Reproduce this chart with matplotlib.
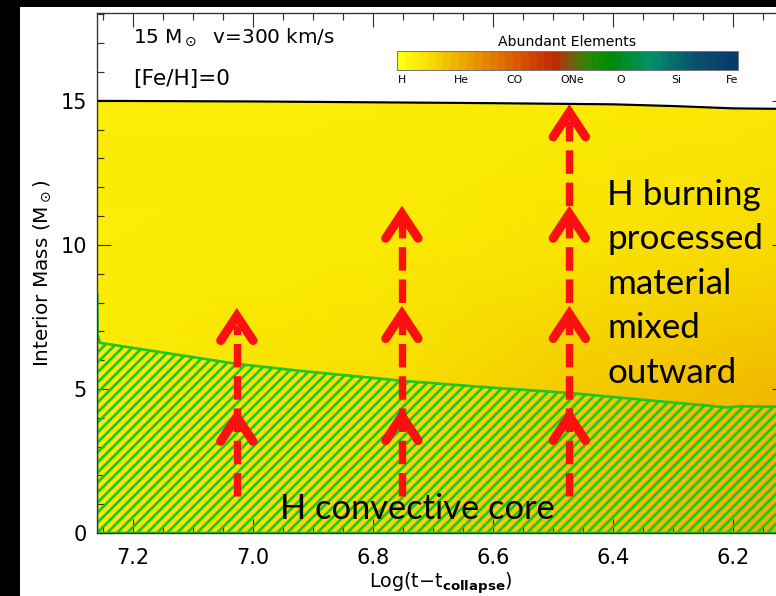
import numpy as np
import matplotlib
matplotlib.use("Agg")
from matplotlib import pyplot as plt
from matplotlib.colors import LinearSegmentedColormap, Normalize
from matplotlib.cm import ScalarMappable
from matplotlib.patches import Polygon, Rectangle
from matplotlib.ticker import MultipleLocator

DPI = 120
W, H = 776, 596

plt.rcParams['font.family'] = ['DejaVu Sans']
plt.rcParams['mathtext.fontset'] = 'dejavusans'
plt.rcParams['hatch.color'] = '#22c41e'
plt.rcParams['hatch.linewidth'] = 1.6

# stellar surface (total mass) vs log time to collapse
surf_t = [7.26, 7.0, 6.8, 6.6, 6.4, 6.3, 6.2, 6.11]
surf_m = [15.0, 14.98, 14.95, 14.92, 14.88, 14.82, 14.74, 14.72]

# outer edge of the H convective core
core_t = [7.26, 7.2595, 7.255, 7.155, 7.027, 6.922, 6.75, 6.605, 6.472, 6.338, 6.21, 6.19, 6.11]
core_m = [8.3, 6.9, 6.6, 6.28, 5.87, 5.63, 5.28, 5.05, 4.86, 4.6, 4.36, 4.4, 4.38]

# coarse grid of the abundance index (0 = H ... 1 = Fe) inside the star
grid_t = [7.26, 6.8, 6.4, 6.11]
grid_m = [0, 5, 10, 15.2]
grid_idx = [[0.06, 0.1, 0.14, 0.175],
            [0.055, 0.085, 0.125, 0.155],
            [0.05, 0.058, 0.075, 0.09],
            [0.048, 0.05, 0.055, 0.06]]

# abundance colour scale
elements = ['H', 'He', 'CO', 'ONe', 'O', 'Si', 'Fe']
element_pos = [0.015, 0.19, 0.345, 0.513, 0.657, 0.818, 0.982]
scale_stops = [0.0, 0.08, 0.18, 0.3, 0.4, 0.46, 0.5, 0.56, 0.62, 0.75, 0.88, 1.0]
scale_colors = ['#ffff10', '#f8e000', '#eeaa00', '#e07000', '#d04000', '#c42800',
                '#8a5010', '#2a8a08', '#008a00', '#00906a', '#0a5070', '#083a6a']

# mixing arrows: column positions and chevron tips
arrow_t = [7.027, 6.752, 6.473]
arrow_tips = [[4.03, 7.53], [4.06, 7.6, 11.08], [4.06, 7.6, 11.08, 14.6]]
arrow_base = 1.3

note_lines = ['H burning', 'processed', 'material', 'mixed', 'outward']

cmap = LinearSegmentedColormap.from_list('abund', list(zip(scale_stops, scale_colors)), N=256)
cmap_bands = LinearSegmentedColormap.from_list('abund_b', list(zip(scale_stops, scale_colors)), N=44)

fig = plt.figure(figsize=(W / DPI, H / DPI), dpi=DPI, facecolor='black')
fig.patches.append(Rectangle((20 / W, 0), 1, 1 - 7 / H, transform=fig.transFigure,
                             facecolor='white', edgecolor='none', zorder=-10))

ax = fig.add_axes([97 / W, 63 / H, 689 / W, 520 / H])
ax.set_xlim(7.26, 6.112)
ax.set_ylim(0, 18.05)

# interior colour field, clipped to the star
star = Polygon(list(zip(surf_t, surf_m)) + [(surf_t[-1], 0), (surf_t[0], 0)],
               closed=True, facecolor='none', edgecolor='none')
ax.add_patch(star)
T, M = np.meshgrid(grid_t, grid_m)
mesh = ax.pcolormesh(T, M, np.array(grid_idx), cmap=cmap, vmin=0, vmax=1,
                     shading='gouraud', zorder=1)
mesh.set_clip_path(star)
ax.plot(surf_t, surf_m, color='black', lw=1.3, zorder=2)

# convective core
ax.fill_between(core_t, 0, core_m, facecolor='none', edgecolor='#22c41e',
                hatch='////', linewidth=1.6, zorder=2)

# dashed mixing arrows
for t, tips in zip(arrow_t, arrow_tips):
    ax.plot([t, t], [arrow_base, tips[-1] - 0.3], color='#fb1010', lw=4.4,
            linestyle=(0, (3.2, 1.2)), solid_capstyle='butt', zorder=4)
    for m in tips:
        ax.plot([t - 0.027, t, t + 0.027], [m - 0.85, m, m - 0.85], color='#fb1010',
                lw=5.4, solid_capstyle='round', solid_joinstyle='miter', zorder=5)

for i, line in enumerate(note_lines):
    ax.text(6.41, 11.39 - i * 1.545, line, fontsize=21, family='Lato',
            va='baseline', ha='left', zorder=6)
ax.text(6.955, 0.49, 'H convective core', fontsize=20.6, family='Lato',
        va='baseline', ha='left', zorder=6)

ax.text(7.2, 17.01, r'15 M$_\odot$  v=300 km/s', fontsize=12, va='baseline', ha='left')
ax.text(7.2, 15.55, '[Fe/H]=0', fontsize=13, va='baseline', ha='left')

ax.xaxis.set_major_locator(MultipleLocator(0.2))
ax.xaxis.set_minor_locator(MultipleLocator(0.05))
ax.yaxis.set_major_locator(MultipleLocator(5))
ax.yaxis.set_minor_locator(MultipleLocator(1))
ax.tick_params(which='both', direction='in', top=True, right=True, color='#333333', width=0.7)
ax.tick_params(which='major', length=8.4)
ax.tick_params(which='minor', length=4.2)
ax.tick_params(axis='x', which='major', labelsize=12.5, pad=9)
ax.tick_params(axis='y', which='major', labelsize=12.5, pad=6)
for s in ax.spines.values():
    s.set_color('#333333')
    s.set_linewidth(0.8)

fig.text(42 / W, 1 - 273 / H, r'Interior Mass (M$_\odot$)', rotation=90,
         ha='center', va='center', fontsize=12)
fig.text(441 / W, 1 - 588 / H, r'Log(t$-$t$_{\mathbf{collapse}}$)', ha='center',
         va='baseline', fontsize=11.5)

# colour scale inset
cax = fig.add_axes([397 / W, 1 - 70 / H, 341 / W, 19 / H])
cb = fig.colorbar(ScalarMappable(norm=Normalize(0, 1), cmap=cmap_bands), cax=cax,
                  orientation='horizontal')
cb.outline.set_edgecolor('#777777')
cb.outline.set_linewidth(0.6)
cb.set_ticks(element_pos)
cb.set_ticklabels(elements)
cax.tick_params(length=0, labelsize=6.5, pad=3)
cax.set_title('Abundant Elements', fontsize=8.4, pad=3)

fig.savefig('out.png', dpi=DPI, facecolor=fig.get_facecolor())
